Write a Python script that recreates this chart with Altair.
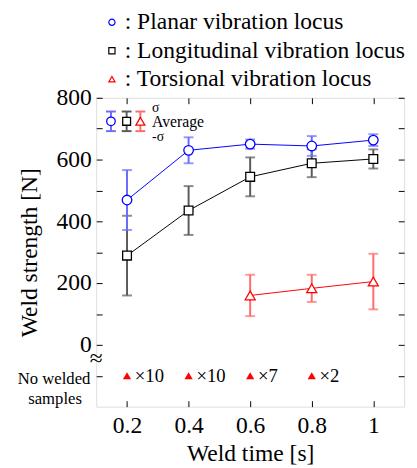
import altair as alt
import pandas as pd

# ---- data ----
times = [0.2, 0.4, 0.6, 0.8, 1.0]
planar_mean = [469, 630, 650, 644, 663]
planar_sd = [97, 42, 15, 32, 19]
long_mean = [289, 435, 544, 588, 602]
long_sd = [129, 79, 63, 45, 31]
tors_times = [0.6, 0.8, 1.0]
tors_mean = [160, 183, 205]
tors_sd = [67, 44, 90]

no_weld_times = [0.2, 0.4, 0.6, 0.8]
no_weld_labels = ["\u00d710", "\u00d710", "\u00d77", "\u00d72"]
no_weld_level = -100

y_ticks = list(range(-100, 801, 100))
x_ticks = [0.2, 0.4, 0.6, 0.8, 1.0]
legend_names = [": Planar vibration locus", ": Longitudinal vibration locus", ": Torsional vibration locus"]
break_level = -47

FONT = "Liberation Serif, Times New Roman, Times, serif"
BLUE, BLACK, RED = "#0000ff", "#000000", "#ff0000"
EBLUE, EBLACK, ERED = "#6b6bff", "#5a5a5a", "#ff6b6b"

rows = []
for name, t, m, s in [("planar", times, planar_mean, planar_sd),
                      ("long", times, long_mean, long_sd),
                      ("tors", tors_times, tors_mean, tors_sd)]:
    for ti, mi, si in zip(t, m, s):
        rows.append({"series": name, "t": ti, "mean": mi, "lo": mi - si, "hi": mi + si})
df = pd.DataFrame(rows)

xs = alt.Scale(domain=[0.1, 1.1], nice=False, zero=False)
ys = alt.Scale(domain=[-200, 800], nice=False, zero=False)

x_axis = alt.Axis(values=x_ticks, format="~g", orient="bottom", offset=-6, tickSize=6,
                  domain=False, grid=False, labelFont=FONT, labelFontSize=24, labelColor="black",
                  labelPadding=7, tickColor="black", tickWidth=1,
                  title="Weld time [s]", titleFont=FONT, titleFontSize=24, titleFontWeight="normal",
                  titleColor="black", titlePadding=5)
y_axis = alt.Axis(values=y_ticks, orient="left", offset=-6, tickSize=6, domain=False, grid=False,
                  labelExpr="datum.value >= 0 && datum.value % 200 == 0 ? datum.label : ''",
                  labelFont=FONT, labelFontSize=24, labelColor="black", labelPadding=5,
                  tickColor="black", tickWidth=1,
                  title="Weld strength [N]", titleFont=FONT, titleFontSize=24,
                  titleFontWeight="normal", titleColor="black", titlePadding=15)

colors = {"planar": (BLUE, EBLUE, "circle", 95), "long": (BLACK, EBLACK, "square", 80),
          "tors": (RED, ERED, "triangle-up", 105)}

layers = []
for name in ["long", "planar", "tors"]:
    c, ec, shape, sz = colors[name]
    sub = df[df.series == name]
    base = alt.Chart(sub)
    layers.append(base.mark_rule(color=ec, strokeWidth=2).encode(
        x=alt.X("t:Q", scale=xs, axis=x_axis), y=alt.Y("lo:Q", scale=ys, axis=y_axis), y2="hi:Q"))
    for f in ["lo", "hi"]:
        layers.append(base.mark_tick(color=ec, orient="horizontal", size=10, thickness=2).encode(
            x=alt.X("t:Q", scale=xs, axis=x_axis), y=alt.Y(f + ":Q", scale=ys, axis=y_axis)))
for name in ["long", "planar", "tors"]:
    c, ec, shape, sz = colors[name]
    sub = df[df.series == name]
    base = alt.Chart(sub)
    layers.append(base.mark_line(color=c, strokeWidth=1).encode(
        x=alt.X("t:Q", scale=xs, axis=x_axis), y=alt.Y("mean:Q", scale=ys, axis=y_axis)))
    layers.append(base.mark_point(shape=shape, color=c, fill="white", filled=False, opacity=1,
                                  fillOpacity=1, size=sz, strokeWidth=1.3).encode(
        x=alt.X("t:Q", scale=xs, axis=x_axis), y=alt.Y("mean:Q", scale=ys, axis=y_axis)))

nw = pd.DataFrame({"t": no_weld_times, "y": [no_weld_level] * 4, "lab": no_weld_labels})
layers.append(alt.Chart(nw).mark_point(shape="triangle-up", color=RED, filled=True, opacity=1,
                                       size=70).encode(
    x=alt.X("t:Q", scale=xs, axis=x_axis), y=alt.Y("y:Q", scale=ys, axis=y_axis)))
layers.append(alt.Chart(nw).mark_text(align="left", baseline="middle", dx=8, font=FONT,
                                      fontSize=19, color="black").encode(
    x=alt.X("t:Q", scale=xs, axis=x_axis), y=alt.Y("y:Q", scale=ys, axis=y_axis), text="lab:N"))

# "No welded samples" label for the -100 tick
lab = pd.DataFrame({"y": [no_weld_level], "l1": ["No welded"], "l2": ["samples"]})
layers.append(alt.Chart(lab).mark_text(align="center", baseline="middle", dy=3, font=FONT,
                                       fontSize=17, color="black").encode(
    x=alt.value(-43), y=alt.Y("y:Q", scale=ys, axis=y_axis), text="l1:N"))
layers.append(alt.Chart(lab).mark_text(align="center", baseline="middle", dy=24, font=FONT,
                                       fontSize=17, color="black").encode(
    x=alt.value(-42), y=alt.Y("y:Q", scale=ys, axis=y_axis), text="l2:N"))

# axis break symbol
brk = pd.DataFrame({"y": [break_level], "s": ["\u2248"]})
layers.append(alt.Chart(brk).mark_text(align="center", baseline="middle", font=FONT,
                                       fontSize=24, color="black").encode(
    x=alt.value(0), y=alt.Y("y:Q", scale=ys, axis=y_axis), text="s:N"))

# top legend
leg_y = [-77, -48, -19]
for i, (nm, key) in enumerate(zip(legend_names, ["planar", "long", "tors"])):
    c, ec, shape, sz = colors[key]
    d = pd.DataFrame({"name": [nm]})
    layers.append(alt.Chart(d).mark_point(shape=shape, color=c, filled=False, size=40,
                                          strokeWidth=1.2, opacity=1).encode(
        x=alt.value(16), y=alt.value(leg_y[i])))
    layers.append(alt.Chart(d).mark_text(align="left", baseline="middle", font=FONT, fontSize=24,
                                         color="black").encode(
        x=alt.value(29), y=alt.value(leg_y[i]), text="name:N"))

# inner legend (sigma / average)
for key, px in [("planar", 15), ("long", 31), ("tors", 45)]:
    c, ec, shape, sz = colors[key]
    d = pd.DataFrame({"k": [key]})
    layers.append(alt.Chart(d).mark_rule(color=ec, strokeWidth=2).encode(
        x=alt.value(px), y=alt.value(14), y2=alt.value(34)))
    for yy in [14, 34]:
        layers.append(alt.Chart(d).mark_rule(color=ec, strokeWidth=2).encode(
            x=alt.value(px - 5), x2=alt.value(px + 5), y=alt.value(yy)))
    layers.append(alt.Chart(d).mark_point(shape=shape, color=c, fill="white", filled=False,
                                          fillOpacity=1, size=sz * 0.8, strokeWidth=1.3,
                                          opacity=1).encode(
        x=alt.value(px), y=alt.value(24)))
for txt, yy, fs in [("\u03c3", 10, 14), ("Average", 25, 16), ("-\u03c3", 40, 14)]:
    d = pd.DataFrame({"t": [txt]})
    layers.append(alt.Chart(d).mark_text(align="left", baseline="middle", font=FONT, fontSize=fs,
                                         color="black").encode(
        x=alt.value(57), y=alt.value(yy), text="t:N"))

main = alt.layer(*layers)

# top and right inward ticks
dummy = pd.DataFrame({"t": [0.5], "y": [300]})
frame = alt.Chart(dummy).mark_point(opacity=0).encode(
    x=alt.X("t:Q", scale=xs, axis=alt.Axis(values=x_ticks, orient="top", offset=-6, tickSize=6,
                                           domain=False, grid=False, labels=False, title=None,
                                           tickColor="black", tickWidth=1)),
    y=alt.Y("y:Q", scale=ys, axis=alt.Axis(values=y_ticks, orient="right", offset=-6, tickSize=6,
                                           domain=False, grid=False, labels=False, title=None,
                                           tickColor="black", tickWidth=1)))

chart = alt.layer(main, frame).resolve_scale(x="independent", y="independent").properties(
    width=314, height=315,
    autosize=alt.AutoSizeParams(type="none"),
    padding={"left": 90, "top": 87, "right": 5, "bottom": 58},
).configure_view(stroke="black", strokeWidth=1.5).configure(background="white")

chart.save("out.html", embed_options={"renderer": "svg", "actions": False})
